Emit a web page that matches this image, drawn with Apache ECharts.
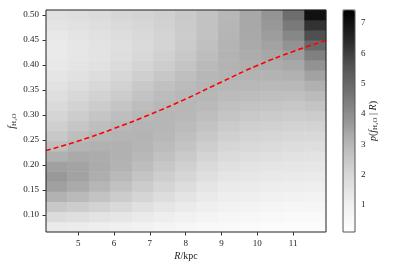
<!DOCTYPE html>
<html>
<head>
<meta charset="utf-8">
<script src="https://cdn.jsdelivr.net/npm/echarts@6/dist/echarts.min.js"></script>
<style>html,body{margin:0;padding:0;background:#fff}#c{width:407px;height:271px}</style>
</head>
<body>
<div id="c"></div>
<script>
// R bin centres (kpc), 0.6 kpc wide bins covering 4.1 - 11.9
const R_centers = [4.4, 5.0, 5.6, 6.2, 6.8, 7.4, 8.0, 8.6, 9.2, 9.8, 10.4, 11.0, 11.6];
// f_H2O bin centres (bottom to top)
const f_centers = [0.08, 0.10, 0.12, 0.14, 0.16, 0.18, 0.20, 0.22, 0.24, 0.26, 0.28,
                   0.30, 0.32, 0.34, 0.36, 0.38, 0.40, 0.42, 0.44, 0.46, 0.48, 0.50];
// p(f_H2O | R) for each R column, listed bottom (f=0.08) to top (f=0.50)
const p_R44  = [1.26,1.82,2.49,3.11,3.53,3.72,3.53,3.16,2.79,2.49,2.26,2.06,1.90,1.73,1.57,1.45,1.33,1.26,1.26,1.33,1.49,1.65];
const p_R50  = [1.17,1.69,2.33,2.93,3.30,3.48,3.46,3.30,3.06,2.81,2.55,2.33,2.13,1.97,1.78,1.61,1.49,1.41,1.41,1.49,1.61,1.73];
const p_R56  = [1.08,1.53,2.13,2.65,3.01,3.21,3.28,3.25,3.14,2.99,2.81,2.58,2.36,2.16,1.97,1.78,1.61,1.53,1.53,1.61,1.73,1.86];
const p_R62  = [1.00,1.41,1.93,2.36,2.71,2.94,3.09,3.14,3.14,3.06,2.96,2.81,2.58,2.36,2.16,2.00,1.86,1.73,1.69,1.78,1.90,2.00];
const p_R68  = [0.87,1.26,1.65,2.06,2.36,2.62,2.85,2.96,3.04,3.06,3.04,2.96,2.85,2.65,2.46,2.26,2.10,1.97,1.90,1.93,2.00,2.10];
const p_R74  = [0.77,1.08,1.41,1.78,2.06,2.30,2.52,2.71,2.87,2.96,3.01,3.01,2.96,2.87,2.71,2.52,2.33,2.20,2.10,2.10,2.16,2.23];
const p_R80  = [0.65,0.94,1.22,1.49,1.78,2.03,2.23,2.43,2.62,2.79,2.90,2.96,2.99,2.96,2.90,2.79,2.62,2.49,2.39,2.36,2.39,2.43];
const p_R86  = [0.54,0.77,1.04,1.26,1.45,1.69,1.90,2.10,2.30,2.49,2.65,2.81,2.93,2.99,3.01,2.99,2.93,2.85,2.76,2.68,2.68,2.68];
const p_R92  = [0.47,0.65,0.87,1.08,1.26,1.45,1.65,1.86,2.03,2.23,2.39,2.58,2.76,2.90,2.99,3.06,3.09,3.09,3.06,3.04,3.01,2.99];
const p_R98  = [0.41,0.59,0.82,1.04,1.22,1.37,1.53,1.73,1.93,2.10,2.26,2.46,2.65,2.85,2.96,3.09,3.18,3.25,3.30,3.32,3.34,3.34];
const p_R104 = [0.35,0.54,0.71,0.94,1.12,1.30,1.45,1.65,1.86,2.03,2.20,2.39,2.58,2.79,2.94,3.09,3.23,3.37,3.48,3.60,3.72,3.82];
const p_R110 = [0.29,0.47,0.65,0.87,1.08,1.26,1.41,1.57,1.78,1.97,2.13,2.33,2.52,2.76,2.94,3.14,3.34,3.58,3.84,4.16,4.50,4.82];
const p_R116 = [0.29,0.47,0.65,0.82,1.04,1.22,1.37,1.53,1.73,1.93,2.13,2.36,2.62,2.90,3.16,3.48,3.87,4.34,4.96,5.65,6.25,7.00];
const columns = [p_R44,p_R50,p_R56,p_R62,p_R68,p_R74,p_R80,p_R86,p_R92,p_R98,p_R104,p_R110,p_R116];

// red dashed curve
const curve_R = [4.1, 5.0, 6.0, 7.0, 8.0, 9.0, 10.0, 11.0, 11.92];
const curve_f = [0.229, 0.248, 0.273, 0.301, 0.332, 0.366, 0.399, 0.427, 0.449];

const xTicks = [5, 6, 7, 8, 9, 10, 11];
const yTicks = [0.10, 0.15, 0.20, 0.25, 0.30, 0.35, 0.40, 0.45, 0.50];
const cbTicks = [1, 2, 3, 4, 5, 6, 7];

const heatData = [];
columns.forEach((col, i) => col.forEach((v, j) => heatData.push([i, j, v])));
const lineData = curve_R.map((r, i) => [r, curve_f[i]]);

const FONT = 'Liberation Serif';
const TXT = '#222';
const greys = ['#ffffff','#f0f0f0','#d9d9d9','#bdbdbd','#969696','#737373','#525252','#252525','#000000'];
const richName = {
  i: {fontFamily: FONT, fontStyle: 'italic', fontSize: 10, color: TXT},
  n: {fontFamily: FONT, fontSize: 10, color: TXT},
  s: {fontFamily: FONT, fontSize: 7, color: TXT, padding: [5, 0, 0, 0]}
};

const chart = echarts.init(document.getElementById('c'), null, {renderer: 'canvas'});
chart.setOption({
  animation: false,
  backgroundColor: '#fff',
  grid: [
    {left: 46, top: 10, width: 280, height: 222, show: true, borderColor: '#222', borderWidth: 1,
     backgroundColor: 'transparent', z: 10, containLabel: false, outerBoundsMode: 'none'},
    {left: 343, top: 10, width: 12, height: 222, show: true, borderColor: '#555', borderWidth: 1,
     backgroundColor: 'transparent', z: 10, containLabel: false, outerBoundsMode: 'none'}
  ],
  xAxis: [
    {type: 'category', gridIndex: 0, data: R_centers, show: false},
    {type: 'value', gridIndex: 0, min: 4.1, max: 11.92, position: 'bottom',
     axisLine: {show: false}, splitLine: {show: false},
     axisTick: {show: true, inside: false, length: 3.5, customValues: xTicks, lineStyle: {color: '#333'}},
     axisLabel: {customValues: xTicks, fontFamily: FONT, fontSize: 9, color: TXT, margin: 7},
     name: '{i|R}{n|/kpc}', nameLocation: 'middle', nameGap: 19, nameMoveOverlap: false,
     nameTextStyle: {rich: richName}},
    {type: 'value', gridIndex: 1, min: 0, max: 1, show: false}
  ],
  yAxis: [
    {type: 'category', gridIndex: 0, data: f_centers, show: false},
    {type: 'value', gridIndex: 0, min: 0.066, max: 0.51, position: 'left',
     axisLine: {show: false}, splitLine: {show: false},
     axisTick: {show: true, inside: false, length: 3.5, customValues: yTicks, lineStyle: {color: '#333'}},
     axisLabel: {customValues: yTicks, formatter: v => v.toFixed(2), fontFamily: FONT, fontSize: 9, color: TXT, margin: 7},
     name: '{i|f}{s|H₂O}', nameLocation: 'middle', nameGap: 28, nameRotate: 90, nameMoveOverlap: false,
     nameTextStyle: {rich: richName}},
    {type: 'value', gridIndex: 1, min: 0.1, max: 7.43, position: 'right',
     axisLine: {show: false}, splitLine: {show: false},
     axisTick: {show: true, inside: false, length: 3, customValues: cbTicks, lineStyle: {color: '#333'}},
     axisLabel: {customValues: cbTicks, fontFamily: FONT, fontSize: 9, color: TXT, margin: 6},
     name: '{i|p}{n|(}{i|f}{s|H₂O}{n| | }{i|R}{n|)}', nameLocation: 'middle', nameGap: 12, nameRotate: 90,
     nameMoveOverlap: false, nameTextStyle: {rich: richName}}
  ],
  visualMap: {
    type: 'continuous', seriesIndex: 0, dimension: 2, min: 0.1, max: 7.43,
    inRange: {color: greys}, calculable: false, hoverLink: false,
    orient: 'vertical', left: 343, top: 10, itemWidth: 12, itemHeight: 222,
    padding: 0, text: null, showLabel: false
  },
  series: [
    {type: 'heatmap', xAxisIndex: 0, yAxisIndex: 0, data: heatData, progressive: 0,
     itemStyle: {borderWidth: 0}, emphasis: {disabled: true}},
    {type: 'line', xAxisIndex: 1, yAxisIndex: 1, data: lineData, smooth: true, symbol: 'none', z: 5,
     lineStyle: {color: '#ff0000', width: 1.6, type: [5, 3]}}
  ]
});
</script>
</body>
</html>
